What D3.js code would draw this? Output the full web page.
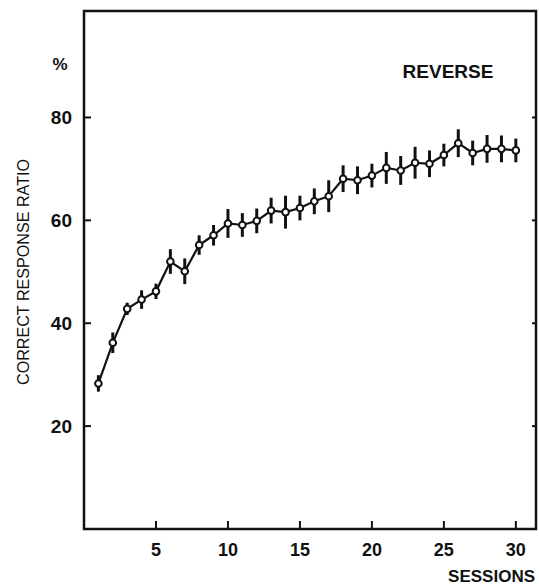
<!DOCTYPE html>
<html>
<head>
<meta charset="utf-8">
<script src="https://cdn.jsdelivr.net/npm/d3@7"></script>
<style>
  html, body { margin: 0; padding: 0; background: #fff; }
  svg { display: block; }
  text { font-family: "Liberation Sans", Arial, Helvetica, sans-serif; fill: #111; }
</style>
</head>
<body>
<div id="chart"></div>
<script>
// session-by-session means and error bars
const sessions = d3.range(1, 31);
const meanRatio = [28.3, 36.2, 42.8, 44.6, 46.2, 52.0, 50.1, 55.2, 57.1, 59.4,
                   59.1, 59.9, 61.9, 61.6, 62.4, 63.7, 64.7, 68.1, 67.8, 68.7,
                   70.2, 69.7, 71.2, 71.0, 72.7, 75.0, 73.1, 73.9, 73.9, 73.6];
const errRatio  = [1.6, 2.0, 1.2, 1.8, 1.5, 2.4, 2.5, 1.9, 2.0, 2.8,
                   2.3, 2.4, 2.5, 3.2, 2.4, 2.5, 3.1, 2.6, 2.7, 2.3,
                   3.1, 2.8, 3.1, 2.6, 2.2, 2.7, 2.4, 2.7, 2.6, 2.3];
const xTicks = [5, 10, 15, 20, 25, 30];
const yTicks = [20, 40, 60, 80];

const W = 539, H = 587;
const frame = { left: 84, right: 536, top: 11, bottom: 529 };

const svg = d3.select('#chart').append('svg').attr('width', W).attr('height', H);

const x = d3.scaleLinear().domain([0, 31.4]).range([frame.left, frame.right]);
const y = d3.scaleLinear().domain([0, 100.7]).range([frame.bottom, frame.top]);

const data = sessions.map((s, i) => ({ s, m: meanRatio[i], e: errRatio[i] }));

// frame
svg.append('rect')
    .attr('x', frame.left).attr('y', frame.top)
    .attr('width', frame.right - frame.left).attr('height', frame.bottom - frame.top)
    .attr('fill', 'none').attr('stroke', '#111').attr('stroke-width', 2.5);

// ticks (inside the frame)
svg.append('g').selectAll('line').data(yTicks).join('line')
    .attr('x1', frame.left).attr('x2', frame.left + 7)
    .attr('y1', d => y(d)).attr('y2', d => y(d))
    .attr('stroke', '#111').attr('stroke-width', 2);
svg.append('g').selectAll('line').data(yTicks).join('line')
    .attr('x1', frame.right).attr('x2', frame.right - 4)
    .attr('y1', d => y(d)).attr('y2', d => y(d))
    .attr('stroke', '#111').attr('stroke-width', 2);
svg.append('g').selectAll('line').data(xTicks).join('line')
    .attr('x1', d => x(d)).attr('x2', d => x(d))
    .attr('y1', frame.bottom).attr('y2', frame.bottom - 8)
    .attr('stroke', '#111').attr('stroke-width', 2);

// tick labels
svg.append('g').selectAll('text').data(yTicks).join('text')
    .attr('x', 72).attr('y', d => y(d) + 7)
    .attr('text-anchor', 'end')
    .attr('font-size', 19).attr('font-weight', 'bold')
    .text(d => d);
svg.append('g').selectAll('text').data(xTicks).join('text')
    .attr('x', d => x(d)).attr('y', 556)
    .attr('text-anchor', 'middle')
    .attr('font-size', 18).attr('font-weight', 'bold')
    .text(d => d);

svg.append('text').attr('x', 60).attr('y', 70)
    .attr('text-anchor', 'middle').attr('font-size', 17).attr('font-weight', 'bold')
    .text('%');

svg.append('text')
    .attr('transform', 'translate(29,272) rotate(-90)')
    .attr('text-anchor', 'middle').attr('font-size', 17)
    .attr('textLength', 226).attr('lengthAdjust', 'spacingAndGlyphs')
    .text('CORRECT RESPONSE RATIO');

svg.append('text').attr('x', 535).attr('y', 582)
    .attr('text-anchor', 'end').attr('font-size', 17).attr('font-weight', 'bold')
    .text('SESSIONS');

svg.append('text').attr('x', 448).attr('y', 78)
    .attr('text-anchor', 'middle').attr('font-size', 19).attr('font-weight', 'bold')
    .text('REVERSE');

// error bars
svg.append('g').selectAll('line').data(data).join('line')
    .attr('x1', d => x(d.s)).attr('x2', d => x(d.s))
    .attr('y1', d => y(d.m - d.e)).attr('y2', d => y(d.m + d.e))
    .attr('stroke', '#111').attr('stroke-width', 3);

// mean line
svg.append('path').datum(data)
    .attr('d', d3.line().x(d => x(d.s)).y(d => y(d.m)))
    .attr('fill', 'none').attr('stroke', '#111').attr('stroke-width', 2.2);

// open circles
svg.append('g').selectAll('circle').data(data).join('circle')
    .attr('cx', d => x(d.s)).attr('cy', d => y(d.m)).attr('r', 3.3)
    .attr('fill', '#fff').attr('stroke', '#111').attr('stroke-width', 2);
</script>
</body>
</html>
